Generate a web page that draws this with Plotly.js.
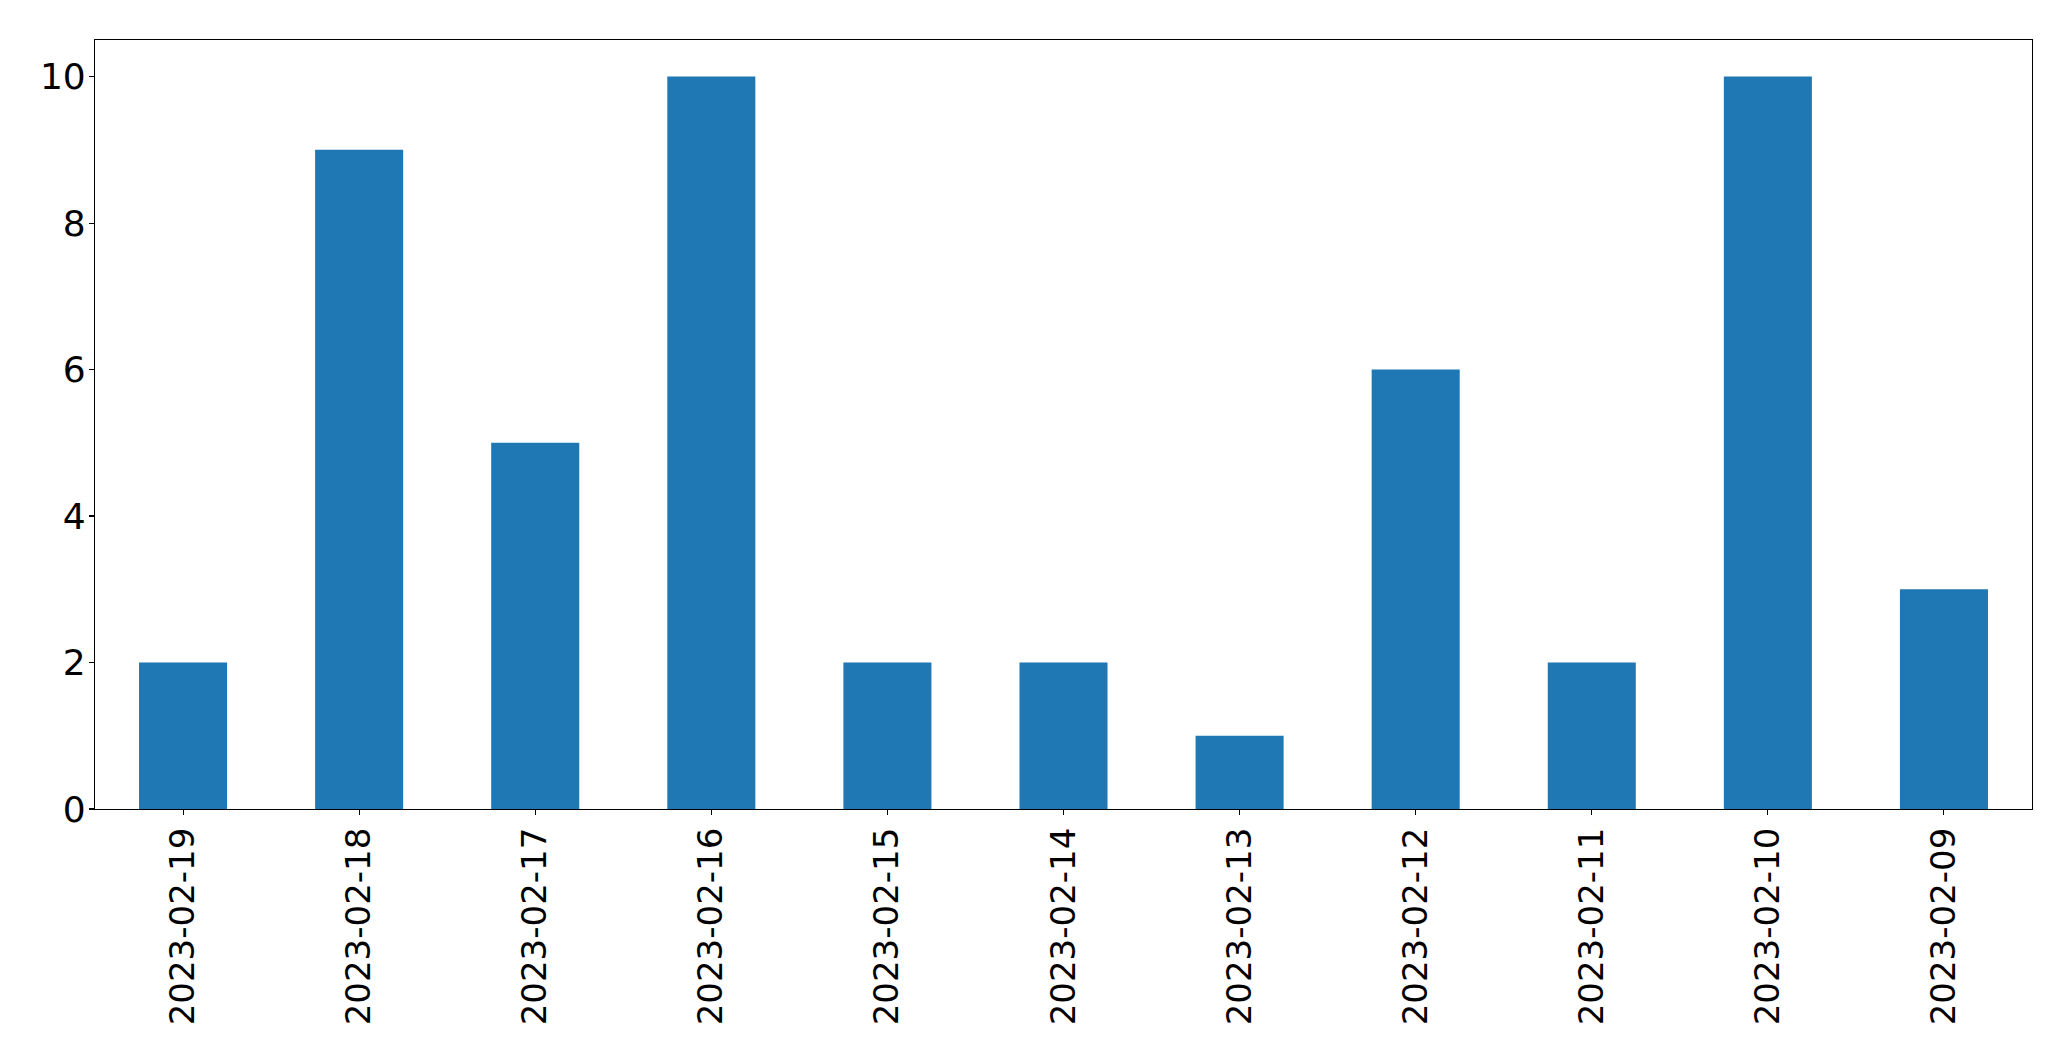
<!DOCTYPE html>
<html>
<head>
<meta charset="utf-8">
<script src="https://cdn.plot.ly/plotly-3.0.1.min.js"></script>
<style>html,body{margin:0;padding:0;background:#fff;}#chart{width:2071px;height:1061px;}</style>
</head>
<body>
<div id="chart"></div>
<script>
const dates = ["2023-02-19","2023-02-18","2023-02-17","2023-02-16","2023-02-15","2023-02-14","2023-02-13","2023-02-12","2023-02-11","2023-02-10","2023-02-09"];
const counts = [2, 9, 5, 10, 2, 2, 1, 6, 2, 10, 3];
const yTicks = [0, 2, 4, 6, 8, 10];

const xfont = {family: "DejaVu Sans", size: 34, color: "#000"};
const yfont = {family: "DejaVu Sans", size: 36, color: "#000"};
Plotly.newPlot("chart", [{
  type: "bar",
  x: dates,
  y: counts,
  width: 0.5,
  marker: {color: "#1f77b4", line: {width: 0}},
  hoverinfo: "x+y"
}], {
  width: 2071, height: 1061,
  margin: {l: 94.5, r: 39.3, t: 39.5, b: 252, pad: 0},
  paper_bgcolor: "#fff", plot_bgcolor: "#fff",
  showlegend: false,
  font: xfont,
  xaxis: {
    type: "category",
    range: [-0.5, 10.5],
    tickangle: -90,
    ticks: "outside", ticklen: 5, tickwidth: 1.1, tickcolor: "#000",
    showline: true, linecolor: "#000", linewidth: 1.1, mirror: true,
    showgrid: false, zeroline: false,
    tickfont: xfont,
    ticklabelstandoff: -1
  },
  yaxis: {
    range: [0, 10.5],
    tickvals: yTicks,
    ticktext: yTicks.map(String),
    ticks: "outside", ticklen: 5, tickwidth: 1.1, tickcolor: "#000",
    showline: true, linecolor: "#000", linewidth: 1.1, mirror: true,
    showgrid: false, zeroline: false,
    tickfont: yfont,
    ticklabelstandoff: -4
  }
}, {displayModeBar: false, staticPlot: true});
</script>
</body>
</html>
